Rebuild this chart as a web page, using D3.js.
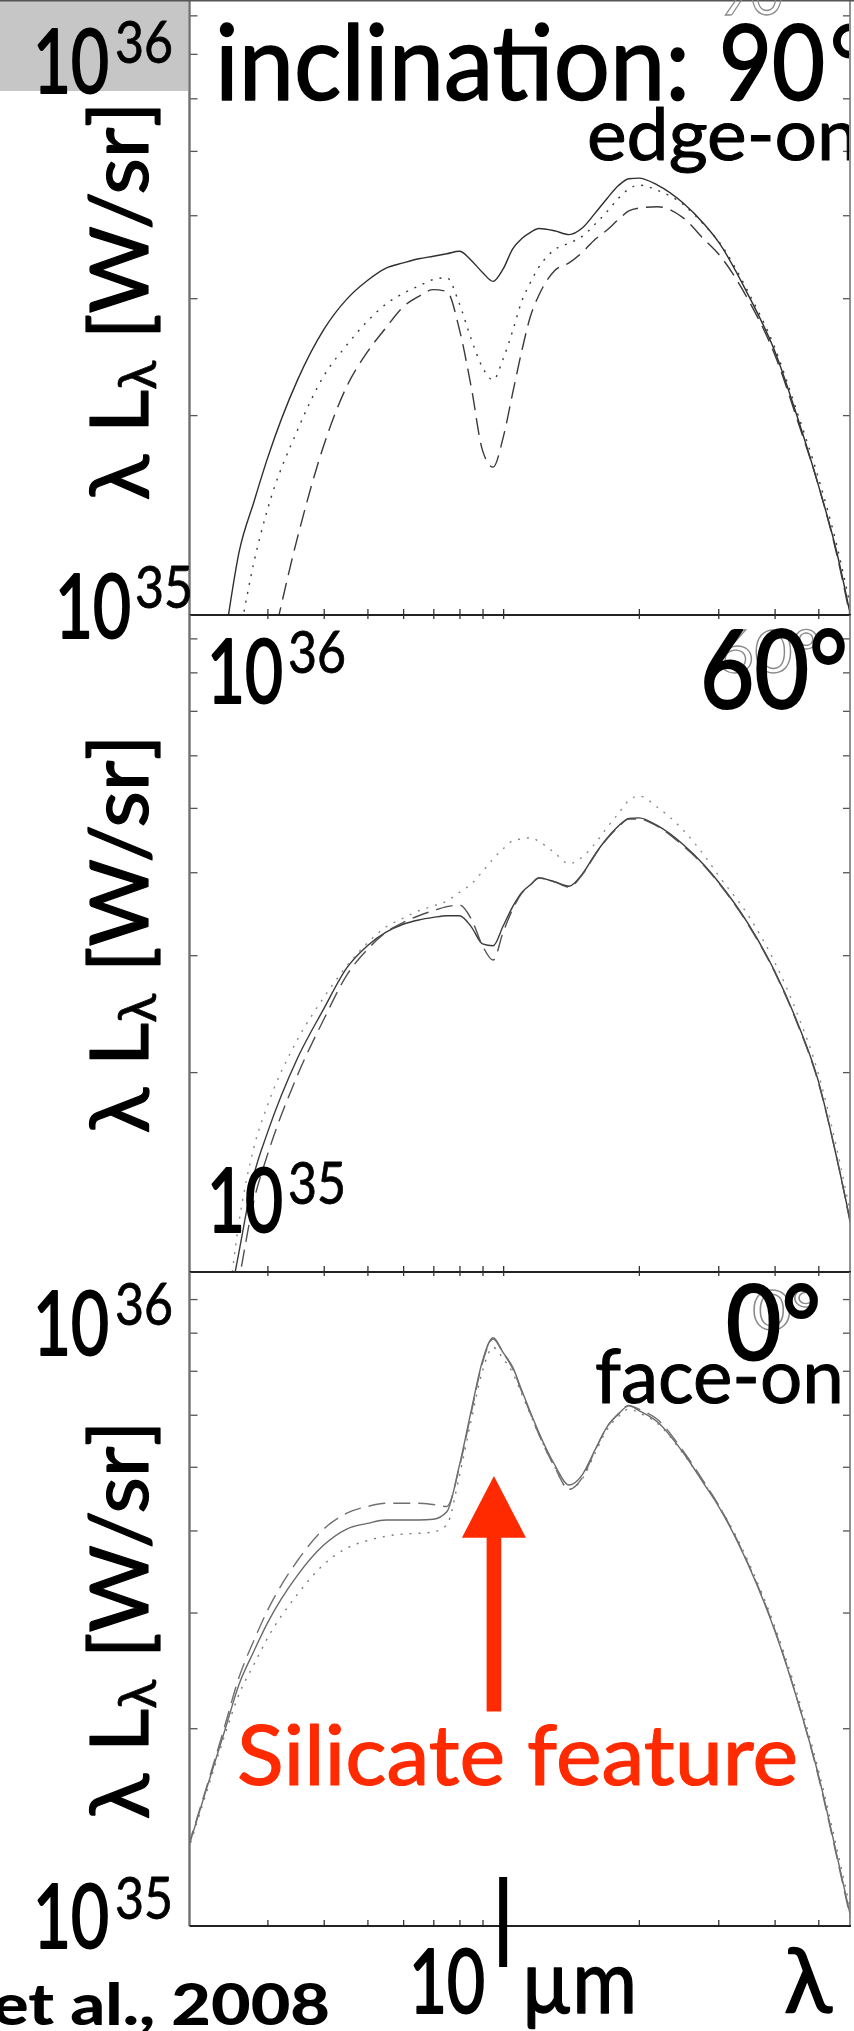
<!DOCTYPE html>
<html><head><meta charset="utf-8">
<script src="https://cdn.jsdelivr.net/npm/d3@7"></script>
<style>html,body{margin:0;padding:0;background:#fff;}svg{display:block;}</style>
</head><body>
<script>
// ---------------- DATA (luminosities in units of 1e35 W/sr) ----------------
const UNIT = 1e35;
const wavelengths = [2.0, 2.2, 2.4, 2.6, 2.8, 3, 3.5, 4, 4.5, 5, 5.5, 6, 6.5, 7, 7.5, 8, 8.5, 9, 9.5, 10, 10.5, 11, 11.5, 12, 13, 14, 15, 16, 17, 18, 19, 20, 22, 25, 28, 30, 35, 40, 45, 50, 55, 60];

// inclination 90 deg (edge-on)
const inc90Solid  = [0.45, 0.63, 0.90, 1.25, 1.48, 1.72, 2.26, 2.69, 2.99, 3.19, 3.33, 3.39, 3.44, 3.47, 3.50, 3.53, 3.42, 3.28, 3.18, 3.32, 3.56, 3.69, 3.77, 3.82, 3.79, 3.74, 3.83, 4.03, 4.24, 4.43, 4.54, 4.55, 4.44, 4.18, 3.87, 3.65, 3.03, 2.50, 1.98, 1.57, 1.24, 0.94];
const inc90Dotted = [0.38, 0.52, 0.70, 0.93, 1.20, 1.44, 1.90, 2.29, 2.55, 2.77, 2.94, 3.05, 3.13, 3.20, 3.22, 2.94, 2.60, 2.36, 2.26, 2.43, 2.68, 2.97, 3.17, 3.34, 3.55, 3.63, 3.72, 3.88, 4.05, 4.24, 4.38, 4.44, 4.36, 4.16, 3.86, 3.66, 3.06, 2.53, 2.01, 1.61, 1.27, 0.97];
const inc90Dashed = [0.30, 0.38, 0.46, 0.55, 0.69, 0.84, 1.31, 1.80, 2.21, 2.49, 2.71, 2.91, 3.02, 3.09, 3.07, 2.69, 2.20, 1.77, 1.67, 1.85, 2.16, 2.50, 2.82, 3.03, 3.30, 3.39, 3.52, 3.68, 3.80, 3.94, 4.06, 4.10, 4.12, 3.97, 3.67, 3.50, 2.98, 2.47, 1.96, 1.57, 1.23, 0.93];

// inclination 60 deg
const inc60Solid  = [0.45, 0.60, 0.81, 1.08, 1.40, 1.62, 2.10, 2.49, 2.87, 3.10, 3.25, 3.34, 3.39, 3.42, 3.44, 3.44, 3.31, 3.12, 3.10, 3.32, 3.55, 3.73, 3.83, 3.92, 3.87, 3.81, 3.98, 4.26, 4.50, 4.69, 4.82, 4.83, 4.70, 4.41, 4.09, 3.87, 3.34, 2.84, 2.37, 1.94, 1.48, 1.12];
const inc60Dotted = [0.35, 0.49, 0.78, 1.20, 1.54, 1.78, 2.24, 2.59, 2.89, 3.13, 3.31, 3.41, 3.50, 3.56, 3.62, 3.73, 3.84, 4.01, 4.19, 4.34, 4.46, 4.49, 4.51, 4.45, 4.28, 4.12, 4.22, 4.42, 4.67, 4.90, 5.13, 5.21, 5.01, 4.64, 4.23, 3.96, 3.44, 2.93, 2.44, 1.99, 1.53, 1.15];
const inc60Dashed = [0.40, 0.55, 0.74, 0.98, 1.28, 1.50, 1.98, 2.40, 2.80, 3.06, 3.25, 3.36, 3.44, 3.50, 3.55, 3.57, 3.40, 3.10, 2.95, 3.25, 3.52, 3.72, 3.83, 3.92, 3.87, 3.80, 3.97, 4.25, 4.49, 4.68, 4.81, 4.81, 4.69, 4.39, 4.08, 3.86, 3.33, 2.83, 2.36, 1.93, 1.48, 1.11];

// inclination 0 deg (face-on)
const inc0Solid  = [1.31, 1.62, 1.96, 2.34, 2.62, 2.89, 3.42, 3.80, 4.02, 4.10, 4.15, 4.15, 4.15, 4.16, 4.27, 5.03, 6.10, 7.25, 7.86, 7.46, 7.09, 6.53, 6.05, 5.64, 5.04, 4.69, 4.87, 5.31, 5.75, 6.01, 6.19, 6.09, 5.85, 5.27, 4.69, 4.36, 3.54, 2.82, 2.20, 1.70, 1.28, 0.98];
const inc0Dotted = [1.30, 1.60, 1.93, 2.26, 2.50, 2.74, 3.20, 3.55, 3.76, 3.86, 3.92, 3.95, 3.96, 3.98, 4.08, 4.85, 5.90, 7.00, 7.60, 7.30, 6.95, 6.45, 6.00, 5.60, 5.00, 4.62, 4.80, 5.25, 5.70, 5.96, 6.12, 6.04, 5.82, 5.25, 4.70, 4.38, 3.58, 2.86, 2.24, 1.73, 1.31, 1.00];
const inc0Dashed = [1.32, 1.63, 1.99, 2.40, 2.72, 3.02, 3.60, 4.02, 4.25, 4.35, 4.40, 4.40, 4.40, 4.38, 4.35, 5.00, 6.05, 7.20, 7.82, 7.45, 7.05, 6.50, 6.02, 5.60, 5.00, 4.62, 4.82, 5.30, 5.75, 6.02, 6.20, 6.12, 5.90, 5.30, 4.72, 4.38, 3.55, 2.83, 2.20, 1.69, 1.27, 0.97];

// axis ticks / labels
const xTickValues = [3, 4, 5, 6, 7, 8, 9, 10, 20, 30, 40, 50];
const yTickMultiples = [2, 3, 4, 5, 6, 7, 8, 9];
const inclinationLabels = ["90°", "60°", "0°"];
const viewLabels = ["edge-on", "", "face-on"];
const yExponents = ["36", "35"];
const yAxisTitle = ["λ L", "λ", " [W/sr]"];
const annotation = "Silicate feature";
const citation = "et al., 2008";
const xUnitLabel = ["10", "µm", "λ"];
// arrow anchor (in data units of the face-on panel)
const arrowLambda = 9.54, arrowTip = 4.84, arrowHeadBase = 3.9, arrowTail = 2.12;

// ---------------- LAYOUT ----------------
const W = 854, H = 2031;
const FONT = "Lato, 'Open Sans', sans-serif";
const frameL = 189.5, frameR = 850;
const x = d3.scaleLog().domain([2, 60]).range([188, 854]);

const svg = d3.select("body").append("svg").attr("width", W).attr("height", H);
svg.append("rect").attr("width", W).attr("height", H).attr("fill", "#fff");
// grey box top-left
svg.append("rect").attr("x", 0).attr("y", 0).attr("width", 188).attr("height", 91).attr("fill", "#c6c6c6");
const defs = svg.append("defs");

const panels = [
  {top: 0,    bottom: 615,  decade: 664, series: [inc90Solid, inc90Dotted, inc90Dashed], colors: ["#2e2e2e", "#3a3a3a", "#3a3a3a"], topTicks: false},
  {top: 615,  bottom: 1272, decade: 664, series: [inc60Solid, inc60Dotted, inc60Dashed], colors: ["#3a3a3a", "#8a8a8a", "#505050"], topTicks: true},
  {top: 1272, bottom: 1926, decade: 657, series: [inc0Solid, inc0Dotted, inc0Dashed], colors: ["#6a6a6a", "#7a7a7a", "#707070"], topTicks: true}
];
const dashes = [null, "2,7", "17,8"];

panels.forEach((p, i) => {
  p.y = d3.scaleLog().domain([1e35, 1e36]).range([p.bottom, p.bottom - p.decade]);
  const cid = "clip" + i;
  defs.append("clipPath").attr("id", cid).append("rect")
    .attr("x", frameL).attr("y", p.top).attr("width", frameR - frameL).attr("height", p.bottom - p.top);
  const g = svg.append("g");
  const curves = g.append("g").attr("clip-path", `url(#${cid})`);
  const line = d3.line().x(d => x(d[0])).y(d => p.y(d[1] * UNIT)).curve(d3.curveMonotoneX);
  p.series.forEach((vals, k) => {
    const pts = wavelengths.map((w, j) => [w, vals[j]]);
    curves.append("path").datum(pts).attr("d", line)
      .attr("fill", "none").attr("stroke", p.colors[k]).attr("stroke-width", 1.4)
      .attr("stroke-dasharray", dashes[k]).attr("stroke-linecap", "butt");
  });

  // y ticks (inward on both sides)
  const [lo, hi] = [p.y.invert(p.bottom), p.y.invert(p.top)];
  const yt = yTickMultiples.map(m => m * 1e35).filter(v => v > lo * 1.001 && v < hi * 0.999);
  const yl = g.append("g").attr("transform", `translate(${frameL},0)`)
    .call(d3.axisRight(p.y).tickValues(yt).tickSize(8).tickFormat(""));
  const yr = g.append("g").attr("transform", `translate(${frameR},0)`)
    .call(d3.axisLeft(p.y).tickValues(yt).tickSize(7).tickFormat(""));
  [yl, yr].forEach(a => { a.select(".domain").remove(); a.selectAll("line").attr("stroke", "#555").attr("stroke-width", 1.3); });

  // x ticks
  const xb = g.append("g").attr("transform", `translate(0,${p.bottom})`)
    .call(d3.axisTop(x).tickValues(xTickValues).tickSize(6).tickFormat(""));
  xb.select(".domain").remove();
  xb.selectAll("line").attr("stroke", "#333").attr("stroke-width", 1.3);
  if (p.topTicks) {
    const xt = g.append("g").attr("transform", `translate(0,${p.top})`)
      .call(d3.axisBottom(x).tickValues(xTickValues).tickSize(4).tickFormat(""));
    xt.select(".domain").remove();
    xt.selectAll("line").attr("stroke", "#333").attr("stroke-width", 1.3);
  }
  // frame
  g.append("line").attr("x1", frameL).attr("x2", frameL).attr("y1", p.top).attr("y2", p.bottom)
    .attr("stroke", "#707070").attr("stroke-width", 2.4);
  g.append("line").attr("x1", frameR).attr("x2", frameR).attr("y1", p.top).attr("y2", p.bottom)
    .attr("stroke", "#777").attr("stroke-width", 1.6);
  g.append("line").attr("x1", frameL).attr("x2", frameR + 1).attr("y1", p.bottom).attr("y2", p.bottom)
    .attr("stroke", "#222").attr("stroke-width", 2);
});
// very top border line
svg.append("line").attr("x1", 0).attr("x2", W).attr("y1", 0.8).attr("y2", 0.8).attr("stroke", "#555").attr("stroke-width", 1.6);

// ---------------- TEXT ----------------
function txt(str, px, py, size, opts = {}) {
  const col = opts.fill || "#000";
  const t = svg.append("text").attr("x", px).attr("y", py).attr("font-family", FONT)
    .attr("font-size", size).attr("fill", col).text(str);
  if (opts.len) t.attr("textLength", opts.len).attr("lengthAdjust", "spacingAndGlyphs");
  if (opts.weight) t.attr("font-weight", opts.weight);
  if (opts.anchor) t.attr("text-anchor", opts.anchor);
  if (opts.bold) t.attr("stroke", col).attr("stroke-width", opts.bold).attr("stroke-linejoin", "round");
  if (opts.stroke) t.attr("fill", "none").attr("stroke", opts.stroke).attr("stroke-width", opts.sw || 1.3);
  if (opts.clip) t.attr("clip-path", opts.clip);
  return t;
}
defs.append("clipPath").attr("id", "clipRight").append("rect").attr("x", 0).attr("y", 0).attr("width", 849).attr("height", H);

// faint ghost labels from the original figure
txt("90", 718, 15, 60, {stroke: "#8a8a8a", len: 65});
txt(inclinationLabels[1], 716, 673, 60, {stroke: "#8a8a8a", len: 104});
txt(inclinationLabels[2], 752, 1330, 56, {stroke: "#8a8a8a", len: 68});

// power-of-ten labels
function power(exp, bx, by, sx, sy) {
  txt("10", bx, by, 90, {len: 76, bold: 2.2});
  txt(exp, sx, sy, 58, {len: 58, bold: 0.8});
}
power(yExponents[0], 33, 93, 115, 63);      // grey box
power(yExponents[1], 55, 638, 135, 608);    // panel 1 bottom
power(yExponents[0], 207, 703, 288, 673);   // panel 2 top
power(yExponents[1], 207, 1232, 288, 1204); // panel 2 bottom
power(yExponents[0], 33, 1355, 115, 1325);  // panel 3 top
power(yExponents[1], 33, 1948, 115, 1919);  // panel 3 bottom

// inclination labels
txt("inclination:", 215, 100, 104, {len: 475, bold: 1.6});
txt(inclinationLabels[0].replace("°", ""), 719, 100, 104, {len: 106, bold: 2});
txt("°", 829, 100, 104, {clip: "url(#clipRight)", bold: 1.2});
txt(viewLabels[0], 587, 160, 72, {len: 272, clip: "url(#clipRight)", bold: 1});
txt(inclinationLabels[1], 700, 708, 108, {len: 148, bold: 2.2});
txt(inclinationLabels[2], 726, 1360, 104, {len: 95, bold: 2.2});
txt(viewLabels[2], 595, 1403, 76, {len: 249, bold: 1});

// y axis titles
[301, 934, 1620].forEach(cy => {
  const t = svg.append("text").attr("transform", `translate(148,${cy}) rotate(-90)`)
    .attr("text-anchor", "middle").attr("font-family", FONT).attr("font-size", 82)
    .attr("stroke", "#000").attr("stroke-width", 1.2).attr("stroke-linejoin", "round")
    .attr("textLength", 399).attr("lengthAdjust", "spacingAndGlyphs");
  t.append("tspan").text(yAxisTitle[0]);
  t.append("tspan").attr("font-size", 52).attr("dy", 8).attr("stroke-width", 0.7).text(yAxisTitle[1]);
  t.append("tspan").attr("dy", -8).text(yAxisTitle[2]);
});

// silicate annotation + arrow
const y3 = panels[2].y;
const ax = x(arrowLambda), yT = y3(arrowTip * UNIT), yB = y3(arrowHeadBase * UNIT), yTail = y3(arrowTail * UNIT);
svg.append("path").attr("fill", "#ff2a00").attr("d",
  `M${ax - 7.3},${yTail}L${ax - 7.3},${yB}L${ax - 32},${yB}L${ax},${yT}L${ax + 32},${yB}L${ax + 7.3},${yB}L${ax + 7.3},${yTail}Z`);
txt(annotation, 237, 1785, 84, {len: 561, fill: "#ff2a00", bold: 1.2});

// x-axis annotations
svg.append("rect").attr("x", x(10) - 4).attr("y", 1877).attr("width", 8).attr("height", 90).attr("fill", "#000");
txt(xUnitLabel[0], 409, 2013, 90, {len: 76, bold: 2.2});
txt(xUnitLabel[1], 521, 2013, 90, {len: 116, bold: 1.4});
txt(xUnitLabel[2], 784, 2012, 90, {len: 48, bold: 1.4});

// citation (cut at left edge)
txt(citation, 330, 2025, 58, {weight: 900, anchor: "end", len: 338});
</script>
</body></html>
